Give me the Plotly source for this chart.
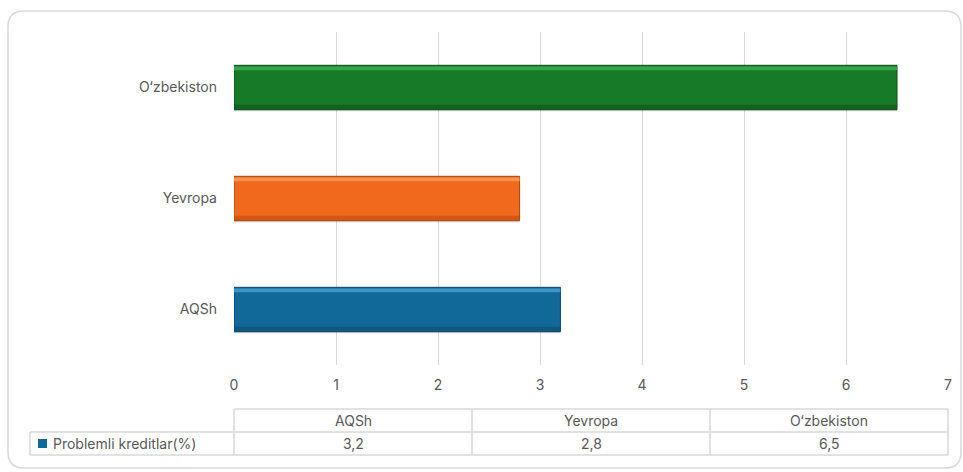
import plotly.graph_objects as go

categories = ["AQSh", "Yevropa", "O\u2018zbekiston"]
values = [3.2, 2.8, 6.5]
series_name = "Problemli kreditlar(%)"
bar_colors = ["#11699a", "#f0691c", "#177a28"]
edge_colors = ["#0a4566", "#a8440c", "#0c4a17"]
hi_colors = ["#4aa6d6", "#f9a05e", "#45b256"]
x_ticks = [0, 1, 2, 3, 4, 5, 6, 7]

W, H = 963, 472
L, R, T, B = 234, 15, 32, 107
PW, PH = W - L - R, H - T - B
XMAX = 7


def px(xp):
    return (xp - L) / PW


def py(yp):
    return (H - B - yp) / PH


FONT = "Inter, Liberation Sans, sans-serif"
GRAY = "#595959"
FS = 14

fig = go.Figure()
# shadow
fig.add_trace(go.Bar(y=categories, x=values, orientation="h", width=0.4, offset=-0.215,
                     marker=dict(color="rgba(0,0,0,0.16)", line=dict(width=0)),
                     hoverinfo="skip", showlegend=False))
fig.add_trace(go.Bar(y=categories, x=values, orientation="h", width=0.4, offset=-0.2,
                     name=series_name,
                     marker=dict(color=bar_colors, line=dict(color=edge_colors, width=1)),
                     showlegend=False))
# top bevel highlight
fig.add_trace(go.Bar(y=categories, x=values, orientation="h", width=0.035, offset=0.155,
                     marker=dict(color=hi_colors, opacity=0.75, line=dict(width=0)),
                     hoverinfo="skip", showlegend=False))
# bottom darker band
fig.add_trace(go.Bar(y=categories, x=values, orientation="h", width=0.04, offset=-0.195,
                     marker=dict(color=edge_colors, opacity=0.45, line=dict(width=0)),
                     hoverinfo="skip", showlegend=False))

shapes = []
annotations = []
LINE = "#d9d9d9"

# data table
y_top, y_mid, y_bot = py(409), py(432), py(455)
n = len(categories)
col_edges = [i / n for i in range(n + 1)]
x_leg = px(30)
for ys in (y_top,):
    shapes.append(dict(type="line", xref="paper", yref="paper", x0=0, x1=1, y0=ys, y1=ys,
                       line=dict(color=LINE, width=1.5)))
for ys in (y_mid, y_bot):
    shapes.append(dict(type="line", xref="paper", yref="paper", x0=x_leg, x1=1, y0=ys, y1=ys,
                       line=dict(color=LINE, width=1.5)))
for xe in col_edges:
    shapes.append(dict(type="line", xref="paper", yref="paper", x0=xe, x1=xe,
                       y0=y_bot, y1=y_top, line=dict(color=LINE, width=1.5)))
shapes.append(dict(type="line", xref="paper", yref="paper", x0=x_leg, x1=x_leg,
                   y0=y_bot, y1=y_mid, line=dict(color=LINE, width=1.5)))

for i, (c, v) in enumerate(zip(categories, values)):
    xc = (col_edges[i] + col_edges[i + 1]) / 2
    annotations.append(dict(xref="paper", yref="paper", x=xc, y=(y_top + y_mid) / 2, text=c,
                            xanchor="center", yanchor="middle",
                            showarrow=False, font=dict(family=FONT, size=FS, color=GRAY)))
    annotations.append(dict(xref="paper", yref="paper", x=xc, y=(y_mid + y_bot) / 2,
                            text=f"{v:.1f}".replace(".", ","),
                            xanchor="center", yanchor="middle",
                            showarrow=False, font=dict(family=FONT, size=FS, color=GRAY)))

# legend key
shapes.append(dict(type="rect", xref="paper", yref="paper", x0=px(38), x1=px(47),
                   y0=py(448), y1=py(439), fillcolor=bar_colors[0], line=dict(width=0)))
annotations.append(dict(xref="paper", yref="paper", x=px(51), y=(y_mid + y_bot) / 2,
                        xanchor="left", yanchor="middle", text=series_name, showarrow=False,
                        font=dict(family=FONT, size=FS, color=GRAY)))

# outer rounded border
x0b, x1b, y0b, y1b, r = 8, 961, 11, 468, 16
path = (f"M {px(x0b)},{py(y1b - r)} L {px(x0b)},{py(y0b + r)} "
        f"Q {px(x0b)},{py(y0b)} {px(x0b + r)},{py(y0b)} "
        f"L {px(x1b - r)},{py(y0b)} Q {px(x1b)},{py(y0b)} {px(x1b)},{py(y0b + r)} "
        f"L {px(x1b)},{py(y1b - r)} Q {px(x1b)},{py(y1b)} {px(x1b - r)},{py(y1b)} "
        f"L {px(x0b + r)},{py(y1b)} Q {px(x0b)},{py(y1b)} {px(x0b)},{py(y1b - r)} Z")
shapes.append(dict(type="path", xref="paper", yref="paper", path=path,
                   line=dict(color="#d9d9d9", width=1.5), layer="below"))

fig.update_layout(
    width=W, height=H,
    margin=dict(l=L, r=R, t=T, b=B),
    paper_bgcolor="white", plot_bgcolor="white",
    barmode="overlay",
    showlegend=False,
    hovermode=False,
    shapes=shapes, annotations=annotations,
    xaxis=dict(range=[0, XMAX], tickvals=x_ticks, showgrid=True, gridcolor=LINE, gridwidth=1,
               zeroline=False, showline=False, ticks="",
               tickfont=dict(family=FONT, size=FS, color=GRAY), ticklabelstandoff=10),
    yaxis=dict(type="category", categoryorder="array", categoryarray=categories,
               range=[-0.5, 2.5], showgrid=False, zeroline=False, showline=False, ticks="",
               tickfont=dict(family=FONT, size=FS, color=GRAY), ticklabelstandoff=16),
)

fig.write_html("out.html", config={"displayModeBar": False},
               post_script="document.body.style.margin='0';document.body.style.overflow='hidden';")
